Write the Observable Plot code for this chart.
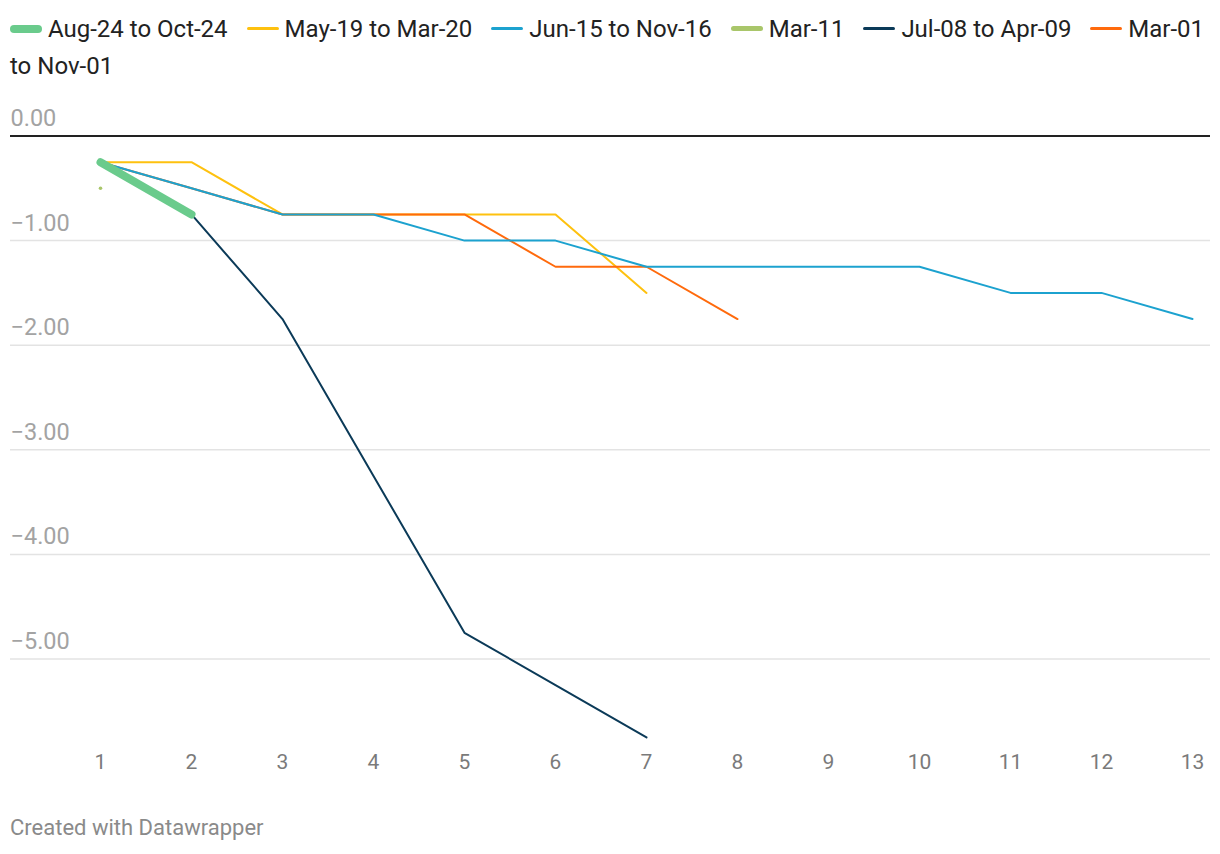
<!DOCTYPE html>
<html>
<head>
<meta charset="utf-8">
<script src="https://cdn.jsdelivr.net/npm/d3@7"></script>
<script src="https://cdn.jsdelivr.net/npm/@observablehq/plot@0.6"></script>
<style>
  body { margin: 0; background: #fff; font-family: Roboto, "Noto Sans", sans-serif; }
  #legend { box-sizing: border-box; width: 1220px; height: 100px; padding: 11px 10px 0 10px; font-size: 24px; line-height: 37px; color: #222; }
  .sw { display: inline-block; width: 32px; vertical-align: middle; margin-right: 6px; margin-left: 13px; position: relative; top: -2px; border-radius: 4px; }
  .sw.first { margin-left: 0; }
  .nb { white-space: nowrap; }
  #chart { height: 690px; }
  #footer { box-sizing: border-box; padding: 26px 0 0 10px; font-size: 22px; line-height: 24px; color: #8a8a8a; }
</style>
</head>
<body>
<div id="legend"></div>
<div id="chart"></div>
<div id="footer">Created with Datawrapper</div>
<script>
// Periods on the x axis
const periods = [1, 2, 3, 4, 5, 6, 7, 8, 9, 10, 11, 12, 13];
// Series (values per period, starting at period 1)
const seriesNames = ["Aug-24 to Oct-24", "May-19 to Mar-20", "Jun-15 to Nov-16", "Mar-11", "Jul-08 to Apr-09", "Mar-01 to Nov-01"];
const aug24 = [-0.25, -0.75];
const may19 = [-0.25, -0.25, -0.75, -0.75, -0.75, -0.75, -1.5];
const jun15 = [-0.25, -0.5, -0.75, -0.75, -1.0, -1.0, -1.25, -1.25, -1.25, -1.25, -1.5, -1.5, -1.75];
const mar11 = [-0.5];
const jul08 = [-0.25, -0.75, -1.75, -3.25, -4.75, -5.25, -5.75];
const mar01 = [-0.25, -0.5, -0.75, -0.75, -0.75, -1.25, -1.25, -1.75];
const seriesColors = ["#6acb8c", "#fec10f", "#1ca2cf", "#a9c66a", "#0b3a58", "#ff6a0c"];
// Y axis ticks
const yTicks = [0, -1, -2, -3, -4, -5];
const yTickLabels = ["0.00", "−1.00", "−2.00", "−3.00", "−4.00", "−5.00"];

const valuesBySeries = [aug24, may19, jun15, mar11, jul08, mar01];
const rows = [];
valuesBySeries.forEach((vals, i) => vals.forEach((v, j) => rows.push({series: seriesNames[i], period: periods[j], value: v})));
const bySeries = name => rows.filter(r => r.series === name);
const colorOf = name => seriesColors[seriesNames.indexOf(name)];

// Legend: swatch + one span per word so no element spans two lines
const legend = document.getElementById("legend");
let html = "";
seriesNames.forEach((name, i) => {
  const thick = i === 0 ? 8 : (i === 3 ? 5 : 3);
  const words = name.split(" ");
  const sw = `<span class="sw${i === 0 ? " first" : ""}" style="height:${thick}px;background:${seriesColors[i]}"></span>`;
  html += `<span class="nb">${sw}<span>${words[0]}</span></span>`;
  words.slice(1).forEach(w => { html += ` <span>${w}</span>`; });
  html += " ";
});
legend.innerHTML = html;

const drawOrder = ["May-19 to Mar-20", "Jul-08 to Apr-09", "Mar-01 to Nov-01", "Jun-15 to Nov-16"];

const chart = Plot.plot({
  width: 1220,
  height: 690,
  marginLeft: 10,
  marginRight: 10,
  marginTop: 14.6,
  marginBottom: 37.4,
  style: { fontFamily: "Roboto, sans-serif", background: "#fff" },
  x: { domain: [1 - 90 / 91, 13 + 18 / 91], axis: null },
  y: { domain: [-5.9, 0.2], axis: null },
  marks: [
    Plot.ruleY(yTicks.filter(d => d !== 0), { stroke: "#e3e3e3", strokeWidth: 1.5 }),
    Plot.text(yTicks, { y: d => d, text: (d, i) => yTickLabels[i], frameAnchor: "left", textAnchor: "start", dy: -17.5, fontSize: 23.5, fill: "#a3a3a3" }),
    Plot.ruleY([0], { stroke: "#222", strokeWidth: 2 }),
    Plot.axisX({ ticks: periods, tickSize: 0, tickPadding: 1, fontSize: 21, color: "#7a7a7a", tickFormat: d => String(d), label: null }),
    ...drawOrder.map(name => Plot.line(bySeries(name), { x: "period", y: "value", stroke: colorOf(name), strokeWidth: 2 })),
    Plot.dot(bySeries("Mar-11"), { x: "period", y: "value", r: 1.8, fill: colorOf("Mar-11"), stroke: null }),
    Plot.line(bySeries("Aug-24 to Oct-24"), { x: "period", y: "value", stroke: colorOf("Aug-24 to Oct-24"), strokeWidth: 8, strokeLinecap: "round" })
  ]
});
document.getElementById("chart").appendChild(chart);
</script>
</body>
</html>
